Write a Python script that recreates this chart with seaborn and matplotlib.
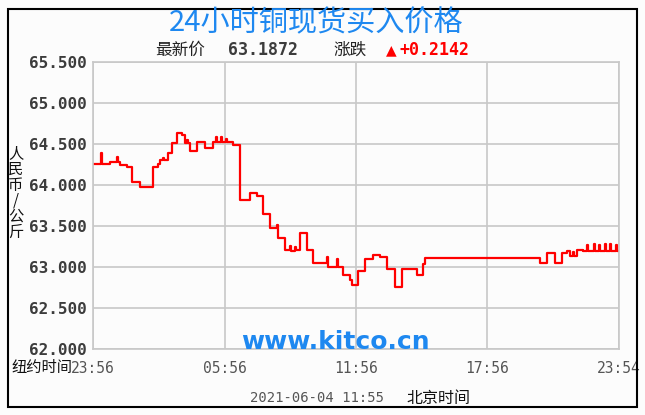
import matplotlib
matplotlib.use('Agg')
import matplotlib.pyplot as plt
import seaborn as sns
import pandas as pd
from matplotlib.patches import Rectangle

# hours after 23:56 New York time, copper spot buy price (CNY/kg)
hours = [0.00, 0.36, 0.40, 0.78, 1.10, 1.14, 1.23, 1.54, 1.76, 2.14,
         2.75, 2.95, 3.06, 3.20, 3.25, 3.44, 3.59, 3.82, 4.05, 4.20,
         4.30, 4.35, 4.43, 4.73, 5.11, 5.49, 5.62, 5.66, 5.85, 5.89,
         6.05, 6.10, 6.40, 6.71, 7.16, 7.47, 7.77, 8.07, 8.39, 8.44,
         8.76, 9.00, 9.05, 9.20, 9.25, 9.45, 9.76, 10.04, 10.68, 10.72,
         11.13, 11.17, 11.40, 11.72, 11.81, 12.09, 12.41, 12.77, 13.09, 13.41,
         13.78, 14.10, 14.78, 15.05, 15.15, 20.39, 20.71, 21.08, 21.40, 21.63,
         21.76, 21.90, 21.95, 22.08, 22.35, 22.55, 22.60, 22.85, 22.90, 23.10,
         23.15, 23.35, 23.40, 23.60, 23.65, 23.85, 23.90, 24.00]
prices = [64.26, 64.39, 64.25, 64.28, 64.34, 64.28, 64.24, 64.22, 64.04, 63.98,
          64.22, 64.26, 64.30, 64.33, 64.30, 64.39, 64.51, 64.63, 64.61, 64.51,
          64.55, 64.51, 64.41, 64.53, 64.45, 64.53, 64.59, 64.53, 64.58, 64.53,
          64.56, 64.53, 64.49, 63.82, 63.90, 63.86, 63.65, 63.47, 63.51, 63.35,
          63.21, 63.25, 63.20, 63.24, 63.21, 63.41, 63.21, 63.05, 63.12, 63.00,
          63.10, 63.00, 62.90, 62.84, 62.78, 62.95, 63.10, 63.15, 63.12, 62.98,
          62.76, 62.98, 62.90, 63.04, 63.11, 63.05, 63.17, 63.05, 63.17, 63.20,
          63.13, 63.18, 63.13, 63.21, 63.19, 63.27, 63.19, 63.28, 63.19, 63.27,
          63.19, 63.28, 63.19, 63.28, 63.19, 63.27, 63.19, 63.19]

y_ticks = [62.0, 62.5, 63.0, 63.5, 64.0, 64.5, 65.0, 65.5]
x_ticks = [0, 6, 12, 18, 24]
x_labels = ['23:56', '05:56', '11:56', '17:56', '23:54']
last_price = '63.1872'
change = '+0.2142'
stamp = '2021-06-04 11:55'

sns.set_theme(style='white')
plt.rcParams['font.family'] = ['Noto Sans CJK SC', 'DejaVu Sans']

W, H = 645, 415
BLUE = '#1e88f0'
RED = '#ff0000'
GRID = '#c8c8c8'

fig = plt.figure(figsize=(W / 100, H / 100), dpi=100, facecolor='#fcfcfc')
ax = fig.add_axes([93 / W, 1 - 349 / H, 526 / W, 287 / H])
ax.set_facecolor('#fcfcfc')

df = pd.DataFrame({'t': hours, 'p': prices})
sns.lineplot(data=df, x='t', y='p', ax=ax, color=RED, lw=1.6,
             drawstyle='steps-post', estimator=None, sort=False)

ax.set_xlim(0, 24)
ax.set_ylim(62.0, 65.5)
ax.set_xticks(x_ticks)
ax.set_xticklabels(x_labels, fontfamily='DejaVu Sans Mono', fontsize=10.5, color='#555555')
ax.set_yticks(y_ticks)
ax.set_yticklabels([f'{v:.3f}' for v in y_ticks], fontfamily='DejaVu Sans Mono',
                   fontweight='bold', fontsize=11.5, color='#3c3c3c')
ax.tick_params(axis='x', length=0, pad=8.5)
ax.tick_params(axis='y', length=0, pad=4.3)
ax.set_xlabel('')
ax.set_ylabel('')
ax.grid(True, color=GRID, lw=1.2)
ax.set_axisbelow(True)
for s in ax.spines.values():
    s.set_color(GRID)
    s.set_linewidth(1.2)


def px_text(x, y, s, **kw):
    fig.text(x / W, 1 - y / H, s, **kw)


px_text(316, 23, '24小时铜现货买入价格', ha='center', va='center', fontsize=21, color=BLUE)
px_text(155, 50, '最新价', ha='left', va='center', fontsize=12, color='#222222')
px_text(228, 50, last_price, ha='left', va='center', family='DejaVu Sans Mono',
        weight='bold', fontsize=12, color='#3c3c3c')
px_text(333, 50, '涨跌', ha='left', va='center', fontsize=12, color='#222222')
px_text(391, 50, '▲', ha='center', va='center', family='DejaVu Sans', fontsize=10, color=RED)
px_text(400, 50, change, ha='left', va='center', family='DejaVu Sans Mono',
        weight='bold', fontsize=12, color=RED)

# vertical unit label
px_text(16, 193, '\n'.join('人民币/公斤'), ha='center', va='center', fontsize=11,
        linespacing=0.9, color='#111111')
px_text(72, 367, '纽约时间', ha='right', va='center', fontsize=11, color='#111111')
px_text(250, 398, stamp, ha='left', va='center', family='DejaVu Sans Mono',
        fontsize=10, color='#555555')
px_text(406, 398, '北京时间', ha='left', va='center', fontsize=11.5, color='#111111')

# watermark
px_text(335, 342, 'www.kitco.cn', ha='center', va='center', family='DejaVu Sans',
        weight='bold', fontsize=18, color=BLUE)

fig.add_artist(Rectangle((8 / W, 1 - 407 / H), 629 / W, 398 / H, transform=fig.transFigure,
                         fill=False, edgecolor='black', lw=1.5))

fig.savefig('out.png', dpi=100, facecolor=fig.get_facecolor())
